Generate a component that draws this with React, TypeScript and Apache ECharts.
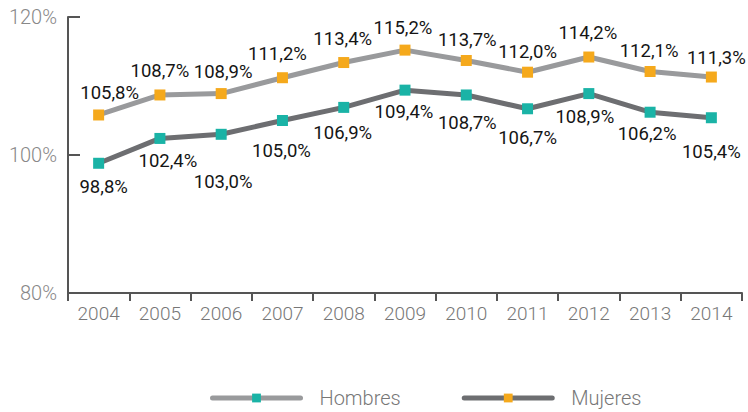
import React, { useEffect, useRef } from "react";
import * as echarts from "echarts";

const years = ["2004", "2005", "2006", "2007", "2008", "2009", "2010", "2011", "2012", "2013", "2014"];
const hombres = [105.8, 108.7, 108.9, 111.2, 113.4, 115.2, 113.7, 112.0, 114.2, 112.1, 111.3];
const mujeres = [98.8, 102.4, 103.0, 105.0, 106.9, 109.4, 108.7, 106.7, 108.9, 106.2, 105.4];

// label placement (layout only), [dx, dy] relative to the marker centre
const hombresLabelShift = [[11, -21.5], [0, -23.5], [2, -22], [-5, -24], [-1, -24], [-2, -22.5], [1, -20.5], [0, -20], [-1, -24], [-1, -20.5], [5, -19]];
const mujeresLabelShift = [[5, 23.5], [8, 23], [2, 47.5], [-1, 30], [-1, 25.5], [-1, 21.5], [1, 28], [0, 29.5], [-4, 23], [-3, 21.5], [0, 34.5]];

const fmt = (v: number) => v.toFixed(1).replace(".", ",") + "%";

export default function App() {
  const ref = useRef<HTMLDivElement>(null);
  useEffect(() => {
    const chart = echarts.init(ref.current!, null, { renderer: "svg" });
    const font = "Roboto";
    const labelBase = {
      show: true,
      position: "inside",
      color: "#151515",
      fontSize: 18.5,
      fontFamily: font,
      formatter: (p: any) => fmt(p.value),
    };
    const build = (vals: number[], shifts: number[][]) =>
      vals.map((v, i) => ({ value: v, label: { offset: shifts[i] } }));
    chart.setOption({
      animation: false,
      grid: { left: 68, right: 6, top: 17, bottom: 119 },
      legend: {
        left: 205,
        top: 383,
        itemWidth: 88,
        itemHeight: 11,
        itemGap: 61,
        lineStyle: { width: 5, cap: "round" },
        textStyle: { color: "#777", fontSize: 20, fontFamily: font, fontWeight: 300, padding: [0, 0, 0, 14] },
        data: [
          { name: "Hombres", itemStyle: { color: "#1ab3a6" } },
          { name: "Mujeres", itemStyle: { color: "#f5a91c" } },
        ],
      },
      xAxis: {
        type: "category",
        data: years,
        boundaryGap: true,
        axisLine: { lineStyle: { color: "#555", width: 2 } },
        axisTick: { show: true, length: 8, lineStyle: { color: "#555", width: 2 } },
        axisLabel: { color: "#777", fontSize: 19, fontFamily: font, fontWeight: 300, margin: 11 },
      },
      yAxis: {
        type: "value",
        min: 80,
        max: 120,
        interval: 20,
        splitLine: { show: false },
        axisLine: { show: true, lineStyle: { color: "#555", width: 2 } },
        axisTick: { show: true, inside: true, length: 12, lineStyle: { color: "#555", width: 2 } },
        axisLabel: { color: "#888", fontSize: 20, fontFamily: font, fontWeight: 300, margin: 11, formatter: (v: number) => v + "%" },
      },
      series: [
        {
          name: "Hombres",
          type: "line",
          data: build(hombres, hombresLabelShift),
          symbol: "rect",
          symbolSize: 11,
          lineStyle: { color: "#999a9c", width: 5 },
          itemStyle: { color: "#f5a91c" },
          label: labelBase,
          z: 3,
        },
        {
          name: "Mujeres",
          type: "line",
          data: build(mujeres, mujeresLabelShift),
          symbol: "rect",
          symbolSize: 11,
          lineStyle: { color: "#6d6e71", width: 5 },
          itemStyle: { color: "#1ab3a6" },
          label: labelBase,
          z: 3,
        },
      ],
    });
    return () => chart.dispose();
  }, []);
  return <div ref={ref} style={{ width: 748, height: 412, position: "absolute", left: 0, top: 0 }} />;
}
